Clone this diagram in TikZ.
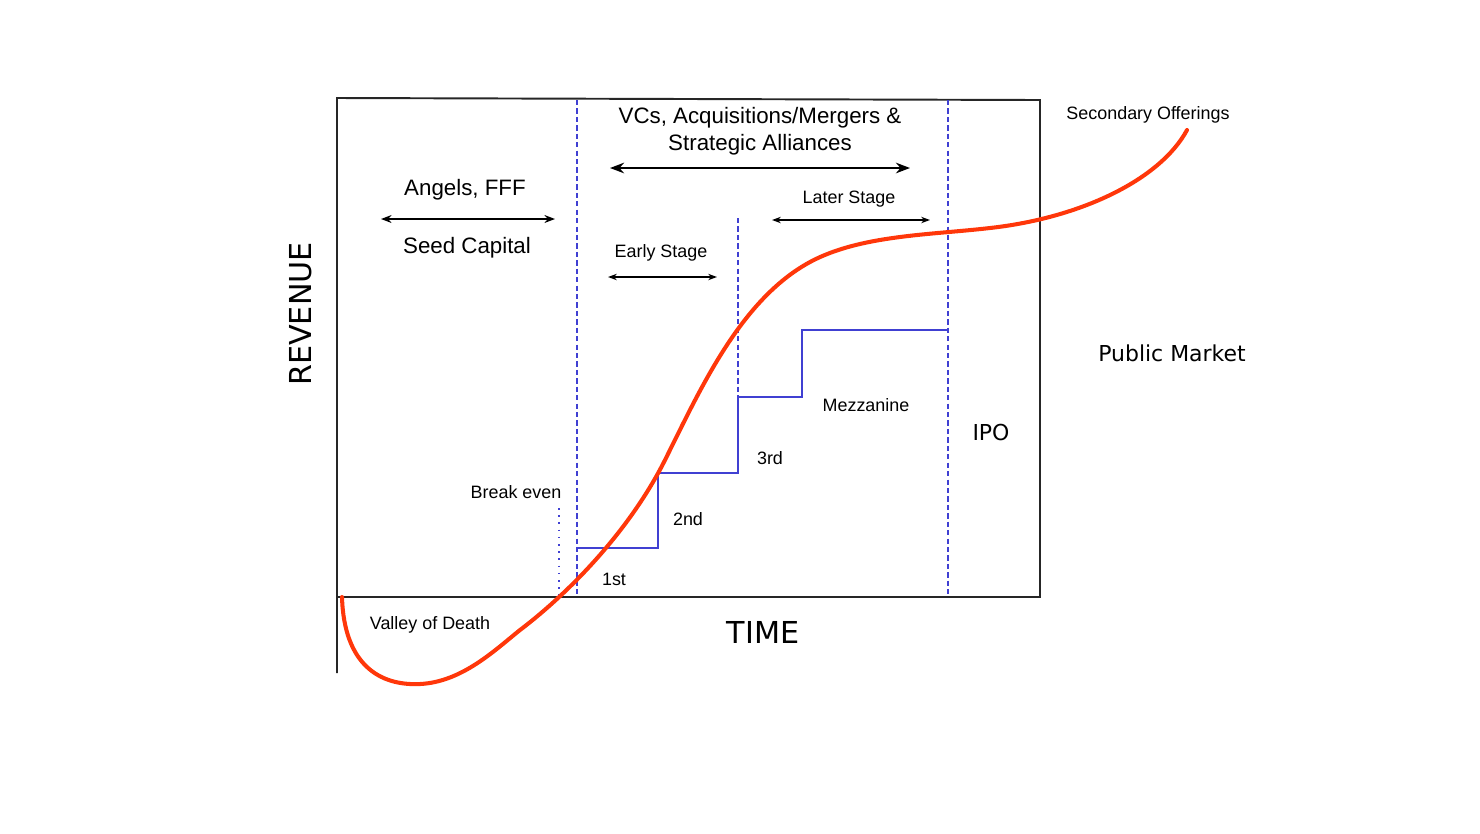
\documentclass[tikz,border=0pt]{standalone}
\usepackage{fontspec}
\setmainfont{Liberation Sans}
\newfontfamily\djv{DejaVu Sans}
\usetikzlibrary{arrows.meta}
\definecolor{curvered}{RGB}{255,55,10}
\definecolor{stepblue}{RGB}{64,64,210}
\begin{document}
\begin{tikzpicture}[x=0.02cm,y=-0.02cm,
  big/.style={font=\fontsize{12.7}{14}\selectfont, inner sep=0pt, yshift=-1.2pt},
  small/.style={font=\fontsize{10.2}{12}\selectfont, inner sep=0pt, yshift=-1pt},
  dj/.style={font=\djv\fontsize{12.5}{14}\selectfont, inner sep=0pt},
  axislab/.style={font=\djv\fontsize{17.2}{20}\selectfont, inner sep=0pt},
  frame/.style={draw=black!85, line width=1.1pt},
  bluedash/.style={draw=stepblue, line width=0.85pt, dash pattern=on 3pt off 1.8pt},
  bluestep/.style={draw=stepblue, line width=1.2pt},
  bigarrow/.style={{Stealth[length=8pt,width=6pt]}-{Stealth[length=8pt,width=6pt]}, line width=1.4pt},
  midarrow/.style={{Stealth[length=6pt,width=4.5pt]}-{Stealth[length=6pt,width=4.5pt]}, line width=1.1pt},
  smallarrow/.style={{Stealth[length=5pt,width=3.6pt]}-{Stealth[length=5pt,width=3.6pt]}, line width=0.9pt},
  revcurve/.style={draw=curvered, line width=2.3pt, line cap=round}]
\useasboundingbox (0,0) rectangle (1480,833);

% frame
\coordinate (fbl) at (337,673);
\coordinate (ftl) at (337,98);
\coordinate (ftr) at (1040,100);
\coordinate (fbr) at (1040,597);
\coordinate (fbx) at (337,597);
\draw[frame] (fbl) -- (ftl) -- (ftr) -- (fbr) -- (fbx);

% dashed dividers
\coordinate (d1t) at (577,100); \coordinate (d1b) at (577,597);
\coordinate (d2t) at (738,218); \coordinate (d2b) at (738,397);
\coordinate (d3t) at (948,100); \coordinate (d3b) at (948,597);
\draw[bluedash] (d1t) -- (d1b);
\draw[bluedash] (d2t) -- (d2b);
\draw[bluedash] (d3t) -- (d3b);

% break even dotted line
\coordinate (bet) at (559,508); \coordinate (beb) at (559,597);
\draw[draw=stepblue, line width=0.9pt, dash pattern=on 0.9pt off 3.2pt] (bet) -- (beb);

% steps
\coordinate (s0) at (577,548);
\coordinate (s1) at (658,548);
\coordinate (s2) at (658,473);
\coordinate (s3) at (738,473);
\coordinate (s4) at (738,397);
\coordinate (s5) at (802,397);
\coordinate (s6) at (802,330);
\coordinate (s7) at (948,330);
\draw[bluestep] (s0) -- (s1) -- (s2) -- (s3) -- (s4) -- (s5) -- (s6) -- (s7);

% arrows
\coordinate (vcL) at (610,168); \coordinate (vcR) at (910,168);
\draw[bigarrow] (vcL) -- (vcR);
\coordinate (agL) at (381,219); \coordinate (agR) at (555,219);
\draw[midarrow] (agL) -- (agR);
\coordinate (esL) at (608,277); \coordinate (esR) at (717,277);
\draw[smallarrow] (esL) -- (esR);
\coordinate (lsL) at (772,220); \coordinate (lsR) at (930,220);
\draw[smallarrow] (lsL) -- (lsR);

% revenue curve
\coordinate (c0) at (342,597);
\coordinate (c1) at (420,684);
\coordinate (c2) at (520,630);
\coordinate (c3) at (665,460);
\coordinate (c4) at (810,262);
\coordinate (c5) at (990,228);
\coordinate (c6) at (1187,130);
\draw[revcurve] (c0) .. controls (344,665) and (380,686) .. (c1)
  .. controls (462,682) and (495,650) .. (c2)
  .. controls (570,592) and (630,530) .. (c3)
  .. controls (700,390) and (740,300) .. (c4)
  .. controls (860,235) and (930,235) .. (c5)
  .. controls (1080,218) and (1160,180) .. (c6);

% labels
\node[big] (vc1) at (760,116) {VCs, Acquisitions/Mergers \&};
\node[big] (vc2) at (760,143) {Strategic Alliances};
\node[big] (ang) at (465,188) {Angels, FFF};
\node[big] (seed) at (467,246) {Seed Capital};
\node[small] (early) at (661,251) {Early Stage};
\node[small] (later) at (849,197) {Later Stage};
\node[small] (sec) at (1148,113) {Secondary Offerings};
\node[dj] (pub) at (1172,353) {Public Market};
\node[dj] (ipo) at (991,432) {IPO};
\node[small] (mez) at (866,403) {Mezzanine};
\node[small] (r3) at (770,456) {3rd};
\node[small] (r2) at (688,517) {2nd};
\node[small] (r1) at (614,578) {1st};
\node[small] (be) at (516,490) {Break even};
\node[small] (vod) at (430,623) {Valley of Death};
\node[axislab] (time) at (763,632) {TIME};
\node[axislab, rotate=90] (rev) at (301,314) {REVENUE};
\end{tikzpicture}
\end{document}
